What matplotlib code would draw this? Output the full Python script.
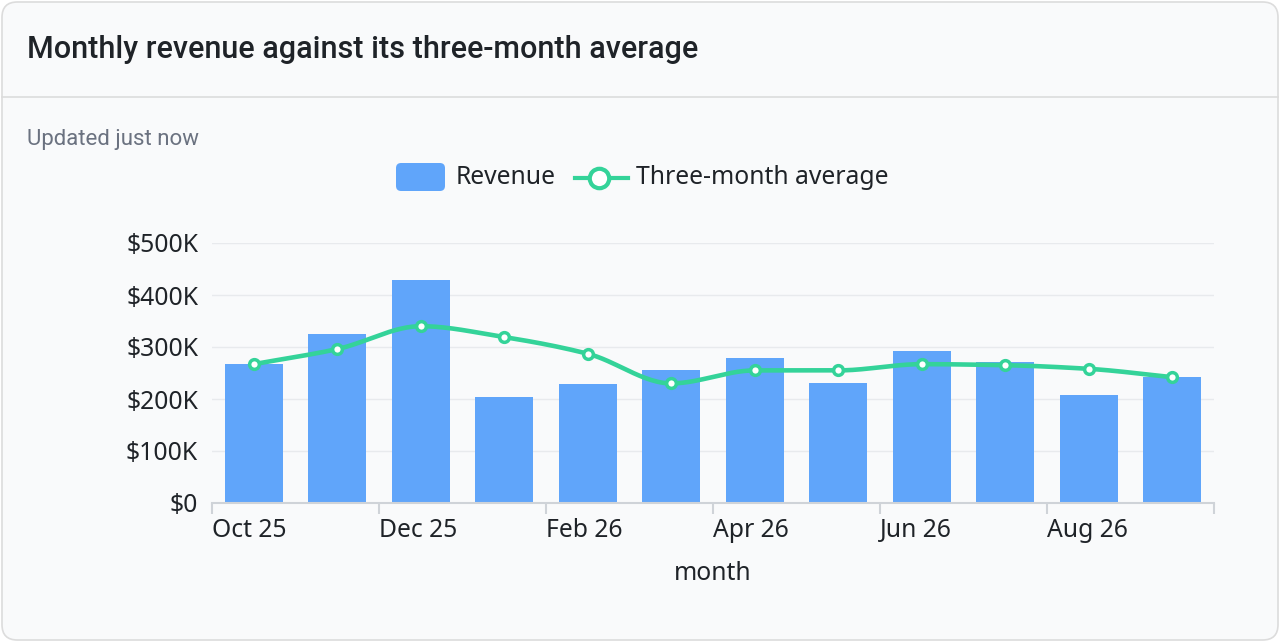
import numpy as np
import matplotlib
matplotlib.use("Agg")
import matplotlib.pyplot as plt
from matplotlib.patches import FancyBboxPatch
from matplotlib.lines import Line2D

# data (USD)
months = ["Oct 25", "Nov 25", "Dec 25", "Jan 26", "Feb 26", "Mar 26",
          "Apr 26", "May 26", "Jun 26", "Jul 26", "Aug 26", "Sep 26"]
revenue = [267000, 325000, 429000, 204000, 229000, 256000,
           279000, 231000, 292000, 271000, 208000, 242000]
three_month_avg = [267000, 296000, 340000, 319000, 287000, 230000,
                   255000, 255000, 267000, 265000, 258000, 242000]
y_ticks = [0, 100000, 200000, 300000, 400000, 500000]
y_tick_labels = ["$0", "$100K", "$200K", "$300K", "$400K", "$500K"]

BAR = "#60a5fa"
LINE = "#34d399"
TXT = "#1f2328"
W, H = 1280, 642
FS = 17.8  # tick / legend text size


def fx(px):
    return px / W


def fy(py):
    return 1 - py / H


def monotone(x, y, n=30):
    # Fritsch-Carlson monotone cubic, only used to draw the smooth curve
    x = np.asarray(x, float)
    y = np.asarray(y, float)
    h = np.diff(x)
    d = np.diff(y) / h
    m = np.zeros_like(y)
    m[0], m[-1] = d[0], d[-1]
    for i in range(1, len(y) - 1):
        if d[i - 1] * d[i] <= 0:
            m[i] = 0
        else:
            m[i] = 3 * (h[i - 1] + h[i]) / ((2 * h[i] + h[i - 1]) / d[i - 1] + (h[i] + 2 * h[i - 1]) / d[i])
    xs, ys = [], []
    for i in range(len(x) - 1):
        t = np.linspace(0, 1, n)
        h00 = 2 * t**3 - 3 * t**2 + 1
        h10 = t**3 - 2 * t**2 + t
        h01 = -2 * t**3 + 3 * t**2
        h11 = t**3 - t**2
        xs.append(x[i] + t * h[i])
        ys.append(h00 * y[i] + h10 * h[i] * m[i] + h01 * y[i + 1] + h11 * h[i] * m[i + 1])
    return np.concatenate(xs), np.concatenate(ys)


fig = plt.figure(figsize=(12.8, 6.42), dpi=100)
fig.patch.set_facecolor("white")

# card
card = FancyBboxPatch((fx(2), fy(640)), fx(1276), 638 / H,
                      boxstyle="round,pad=0,rounding_size=0.012",
                      transform=fig.transFigure, facecolor="#f9fafb",
                      edgecolor="#dcdcdc", linewidth=1.2, mutation_aspect=W / H, zorder=-10)
fig.add_artist(card)
fig.add_artist(Line2D([fx(2), fx(1278)], [fy(97), fy(97)], transform=fig.transFigure,
                      color="#dcdcdc", linewidth=1.2, zorder=-9))

fig.text(fx(27), fy(49), "Monthly revenue against its three-month average",
         fontsize=22, fontfamily="Roboto", fontweight="medium", color=TXT, va="center")
fig.text(fx(27), fy(140), "Updated just now", fontsize=16, fontfamily="Roboto",
         color="#6b7280", va="center")

ax = fig.add_axes([fx(212), fy(503), fx(1214) - fx(212), (503 - 243) / H])
ax.set_facecolor("none")

x = np.arange(len(months)) + 0.5
ax.bar(x, revenue, width=0.7, color=BAR, zorder=2)
sx, sy = monotone(x, three_month_avg)
ax.plot(sx, sy, color=LINE, linewidth=3.3, zorder=3, solid_capstyle="round")
ax.plot(x, three_month_avg, linestyle="none", marker="o", markersize=7,
        markerfacecolor="white", markeredgecolor=LINE, markeredgewidth=2.5, zorder=4)

ax.set_xlim(0, len(months))
ax.set_ylim(0, 500000)
ax.set_yticks(y_ticks)
ax.set_yticklabels(y_tick_labels)
ax.set_xticks(np.arange(0, len(months) + 1, 2))
ax.set_xticklabels([months[i] if i < len(months) else "" for i in range(0, len(months) + 1, 2)],
                   ha="left")
ax.grid(axis="y", color="#e8eaed", linewidth=1, zorder=0)
for s in ["top", "right", "left"]:
    ax.spines[s].set_visible(False)
ax.spines["bottom"].set_color("#cfd3d8")
ax.spines["bottom"].set_linewidth(1.5)
ax.tick_params(axis="y", length=0, pad=10, labelsize=FS, labelcolor=TXT)
ax.tick_params(axis="x", length=8, width=1.5, color="#cfd3d8", pad=3,
               labelsize=FS, labelcolor=TXT)
for lab in ax.get_xticklabels() + ax.get_yticklabels():
    lab.set_fontfamily("Noto Sans")
ax.set_xlabel("month", fontsize=FS, fontfamily="Noto Sans", color=TXT, labelpad=13)

# legend
fig.add_artist(FancyBboxPatch((fx(396), fy(191)), fx(49), 28 / H,
                              boxstyle="round,pad=0,rounding_size=0.004",
                              transform=fig.transFigure, facecolor=BAR, edgecolor="none",
                              mutation_aspect=W / H))
fig.text(fx(456), fy(178), "Revenue", fontsize=FS, fontfamily="Noto Sans", color=TXT, va="center")
fig.add_artist(Line2D([fx(575), fx(628)], [fy(178), fy(178)], transform=fig.transFigure,
                      color=LINE, linewidth=3))
fig.add_artist(Line2D([fx(599)], [fy(178)], transform=fig.transFigure, marker="o",
                      markersize=14, markerfacecolor="white", markeredgecolor=LINE,
                      markeredgewidth=3))
fig.text(fx(636), fy(178), "Three-month average", fontsize=FS, fontfamily="Noto Sans",
         color=TXT, va="center")

fig.savefig("out.png", dpi=100, facecolor="white")
